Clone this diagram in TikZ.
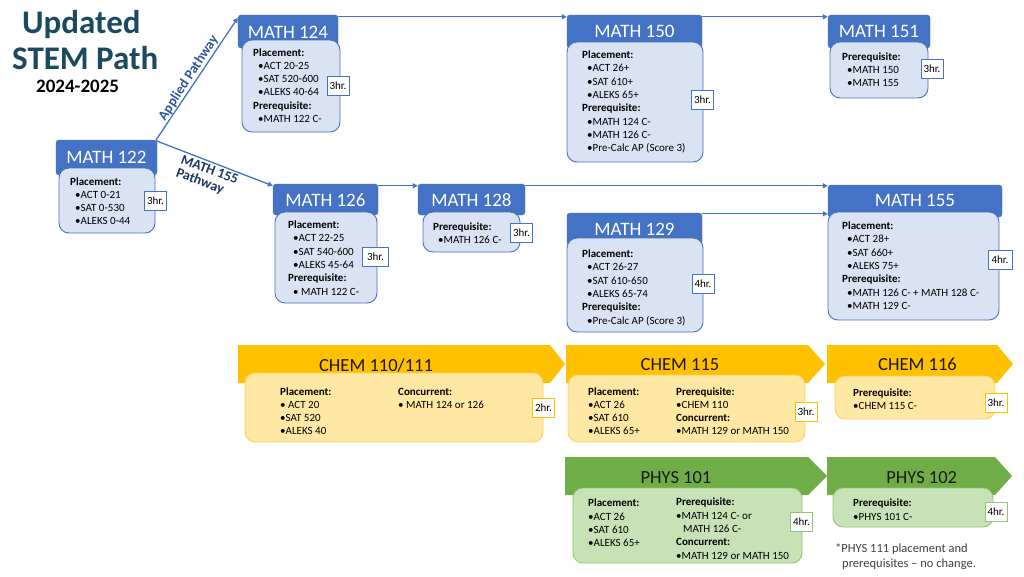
\documentclass[tikz,border=0pt]{standalone}
\usepackage{fontspec}
\setmainfont{Carlito}
\usetikzlibrary{arrows.meta,fit}
\definecolor{mblue}{HTML}{4472C4}
\definecolor{mbody}{HTML}{DAE3F3}
\definecolor{mline}{HTML}{4A70B8}
\definecolor{gold}{HTML}{FFC000}
\definecolor{cbody}{HTML}{FFE8A3}
\definecolor{cline}{HTML}{FFD35A}
\definecolor{green}{HTML}{70AD47}
\definecolor{pbody}{HTML}{C8E2B7}
\definecolor{pline}{HTML}{93C673}
\definecolor{titlec}{HTML}{1B4A5E}
\definecolor{pathA}{HTML}{2F5597}
\definecolor{pathB}{HTML}{203864}
\definecolor{notec}{HTML}{3F3F3F}
\newcommand\smallfont{\fontsize{11}{13.33}\selectfont}
\newcommand\blk[1]{\begin{tabular}[t]{@{}l@{}}#1\end{tabular}}
\newcommand\ind{\hspace*{5pt}}
\tikzset{
  mhead/.style={fill=mblue, draw=mblue, rounded corners=3pt, inner sep=0pt},
  mbodybox/.style={fill=mbody, draw=mline, line width=0.9pt, rounded corners=10pt, inner sep=0pt},
  cbodybox/.style={fill=cbody, draw=cline, line width=0.9pt, rounded corners=10pt, inner sep=0pt},
  pbodybox/.style={fill=pbody, draw=pline, line width=0.9pt, rounded corners=10pt, inner sep=0pt},
  mtitle/.style={anchor=base, inner sep=0pt, text=white, font=\fontsize{19}{22}\selectfont},
  ctitle/.style={anchor=base, inner sep=0pt, text=black!90, font=\fontsize{18.5}{22}\selectfont},
  txt/.style={anchor=base west, inner sep=0pt, font=\smallfont},
  hrbox/.style={draw=#1, fill=white, line width=0.9pt, inner xsep=2pt, inner ysep=0pt,
    minimum height=19pt, minimum width=22pt, font=\smallfont},
  conn/.style={draw=mblue, line width=1.3pt, -{Triangle[length=5pt,width=5pt]}},
}
\begin{document}
\begin{tikzpicture}[x=1pt,y=-1pt]
\useasboundingbox[fill=white] (0,0) rectangle (1024,576);

% Title
\node[anchor=base west, inner sep=0pt, text=titlec, font=\fontsize{33}{36}\selectfont\bfseries] (tU) at (22,33) {Updated};
\node[anchor=base west, inner sep=0pt, text=titlec, font=\fontsize{33}{36}\selectfont\bfseries] (tS) at (12,69) {STEM Path};
\node[anchor=base west, inner sep=0pt, text=black, font=\fontsize{19}{22}\selectfont\bfseries] (tY) at (36,92) {2024-2025};

% ---------- MATH 122
\node[mhead, fit={(56,140) (157,175)}] (h122) {};
\node[mbodybox, fit={(59,168) (155,233)}] (b122) {};
\node[mtitle] (t122) at (106.5,163.3) {MATH 122};
\node[txt] (x122) at (70,185) {\blk{\textbf{Placement:}\\ \ind•ACT 0-21\\ \ind•SAT 0-530\\ \ind•ALEKS 0-44}};
\node[hrbox=mblue] (r122) at (155.5,201) {3hr.};

% ---------- MATH 124
\node[mhead, fit={(238,15) (338,48)}] (h124) {};
\node[mbodybox, fit={(242,40) (340,132)}] (b124) {};
\node[mtitle] (t124) at (288,38) {MATH 124};
\node[txt] (x124) at (253,56) {\blk{\textbf{Placement:}\\ \ind•ACT 20-25\\ \ind•SAT 520-600\\ \ind•ALEKS 40-64\\ \textbf{Prerequisite:}\\ \ind•MATH 122 C-}};
\node[hrbox=mblue] (r124) at (338,85.5) {3hr.};

% ---------- MATH 150
\node[mhead, fit={(567,15) (702,48)}] (h150) {};
\node[mbodybox, fit={(567,42) (703,162)}] (b150) {};
\node[mtitle] (t150) at (634.5,37.5) {MATH 150};
\node[txt] (x150) at (582,58.5) {\blk{\textbf{Placement:}\\ \ind•ACT 26+\\ \ind•SAT 610+\\ \ind•ALEKS 65+\\ \textbf{Prerequisite:}\\ \ind•MATH 124 C-\\ \ind•MATH 126 C-\\ \ind•Pre-Calc AP (Score 3)}};
\node[hrbox=mblue] (r150) at (702.5,99.5) {3hr.};

% ---------- MATH 151
\node[mhead, fit={(828,15) (930,48)}] (h151) {};
\node[mbodybox, fit={(830,42) (928,98)}] (b151) {};
\node[mtitle] (t151) at (879,37.5) {MATH 151};
\node[txt] (x151) at (842,60) {\blk{\textbf{Prerequisite:}\\ \ind•MATH 150\\ \ind•MATH 155}};
\node[hrbox=mblue] (r151) at (932,69) {3hr.};

% ---------- MATH 126
\node[mhead, fit={(273,184) (378,215)}] (h126) {};
\node[mbodybox, fit={(275,212) (377,303)}] (b126) {};
\node[mtitle] (t126) at (325.5,206.7) {MATH 126};
\node[txt] (x126) at (288,228.5) {\blk{\textbf{Placement:}\\ \ind•ACT 22-25\\ \ind•SAT 540-600\\ \ind•ALEKS 45-64\\ \textbf{Prerequisite:}\\ \ind• MATH 122 C-}};
\node[hrbox=mblue, minimum width=26pt] (r126) at (375.5,257) {3hr.};

% ---------- MATH 128
\node[mhead, fit={(418,184) (525,215)}] (h128) {};
\node[mbodybox, fit={(423,212) (520,252)}] (b128) {};
\node[mtitle] (t128) at (471.5,206.7) {MATH 128};
\node[txt] (x128) at (433,230) {\blk{\textbf{Prerequisite:}\\ \ind•MATH 126 C-}};
\node[hrbox=mblue] (r128) at (521.5,232.5) {3hr.};

% ---------- MATH 129
\node[mhead, fit={(567,213) (702,245)}] (h129) {};
\node[mbodybox, fit={(567,238) (703,332)}] (b129) {};
\node[mtitle] (t129) at (634.5,235) {MATH 129};
\node[txt] (x129) at (582,257.5) {\blk{\textbf{Placement:}\\ \ind•ACT 26-27\\ \ind•SAT 610-650\\ \ind•ALEKS 65-74\\ \textbf{Prerequisite:}\\ \ind•Pre-Calc AP (Score 3)}};
\node[hrbox=mblue] (r129) at (703,284) {4hr.};

% ---------- MATH 155
\node[mhead, fit={(828,185) (1002,217)}] (h155) {};
\node[mbodybox, fit={(828,212) (999,320)}] (b155) {};
\node[mtitle] (t155) at (915,206.7) {MATH 155};
\node[txt] (x155) at (842,229.5) {\blk{\textbf{Placement:}\\ \ind•ACT 28+\\ \ind•SAT 660+\\ \ind•ALEKS 75+\\ \textbf{Prerequisite:}\\ \ind•MATH 126 C- + MATH 128 C-\\ \ind•MATH 129 C-}};
\node[hrbox=mblue, minimum width=24pt] (r155) at (1000,260) {4hr.};

% ---------- connectors
\draw[conn] ([xshift=-1pt]h122.north east) -- ([yshift=-3pt]h124.north west);
\draw[conn] ([xshift=-1pt,yshift=-1pt]h122.north east) -- ([yshift=-2pt]h126.north west);
\draw[conn] ([yshift=-2pt]h124.north east) -- ([yshift=-2pt]h150.north west);
\draw[conn] ([yshift=-2pt]h150.north east) -- ([yshift=-2pt]h151.north west);
\draw[conn] ([yshift=-2pt]h126.north east) -- ([yshift=-2pt]h128.north west);
\draw[conn] ([yshift=-2pt]h128.north east) -- ([yshift=-2pt]h128.north east -| h155.west);
\draw[conn] ([yshift=-1pt]h129.north east) -- ([yshift=-1pt]h129.north east -| h155.west);

\node[rotate=57, text=pathA, font=\fontsize{14}{16}\selectfont\bfseries, inner sep=0pt] (lA) at (188.5,78) {Applied Pathway};
\node[rotate=-20.5, text=pathB, font=\fontsize{14}{14}\selectfont\bfseries, align=left, inner sep=0pt] (lB) at (207,177) {MATH 155\\Pathway};

% ---------- CHEM 110/111
\fill[gold] (238,345) -- (550,345) -- (565,364) -- (550,383) -- (238,383) -- cycle;
\node[cbodybox, fit={(245,373) (543,442)}] (b110) {};
\node[ctitle] (t110) at (376,371.7) {CHEM 110/111};
\node[txt] (x110a) at (280,395) {\blk{\textbf{Placement:}\\ • ACT 20\\ •SAT 520\\ •ALEKS 40}};
\node[txt] (x110b) at (398,395) {\blk{\textbf{Concurrent:}\\ • MATH 124 or 126}};
\node[hrbox=gold] (r110) at (543.5,408) {2hr.};

% ---------- CHEM 115
\fill[gold] (566,345) -- (808,345) -- (825,364) -- (808,383) -- (566,383) -- cycle;
\node[cbodybox, fit={(568,375) (805,442)}] (b115) {};
\node[ctitle] (t115) at (680,370.7) {CHEM 115};
\node[txt] (x115a) at (588,395) {\blk{\textbf{Placement:}\\ •ACT 26\\ •SAT 610\\ •ALEKS 65+}};
\node[txt] (x115b) at (676,395) {\blk{\textbf{Prerequisite:}\\ •CHEM 110\\ \textbf{Concurrent:}\\ •MATH 129 or MATH 150}};
\node[hrbox=gold] (r115) at (806,412) {3hr.};

% ---------- CHEM 116
\fill[gold] (827,345) -- (997,345) -- (1013,364) -- (997,383) -- (827,383) -- cycle;
\node[cbodybox, fit={(835,376) (995,419)}] (b116) {};
\node[ctitle] (t116) at (917.5,370.7) {CHEM 116};
\node[txt] (x116) at (853,396) {\blk{\textbf{Prerequisite:}\\ •CHEM 115 C-}};
\node[hrbox=gold] (r116) at (996,402.5) {3hr.};

% ---------- PHYS 101
\fill[green] (565,457) -- (808,457) -- (827,476) -- (808,495) -- (565,495) -- cycle;
\node[pbodybox, fit={(573,488) (802,563)}] (b101) {};
\node[ctitle] (t101) at (676,483.3) {PHYS 101};
\node[txt] (x101a) at (588,506.7) {\blk{\textbf{Placement:}\\ •ACT 26\\ •SAT 610\\ •ALEKS 65+}};
\node[txt] (x101b) at (676,505.7) {\blk{\textbf{Prerequisite:}\\ •MATH 124 C- or\\ \hspace*{7pt}MATH 126 C-\\ \textbf{Concurrent:}\\ •MATH 129 or MATH 150}};
\node[hrbox=pline] (r101) at (801.5,522) {4hr.};

% ---------- PHYS 102
\fill[green] (827,457) -- (995,457) -- (1012,476) -- (995,495) -- (827,495) -- cycle;
\node[pbodybox, fit={(833,488) (993,527)}] (b102) {};
\node[ctitle] (t102) at (921.7,483.3) {PHYS 102};
\node[txt] (x102) at (853,506.7) {\blk{\textbf{Prerequisite:}\\ •PHYS 101 C-}};
\node[hrbox=pline] (r102) at (996,511.5) {4hr.};

\node[anchor=base west, inner sep=0pt, text=notec, font=\fontsize{12.5}{15}\selectfont] (note) at (835,552.5) {\blk{*PHYS 111 placement and\\ \hspace*{7pt}prerequisites – no change.}};
\end{tikzpicture}
\end{document}
